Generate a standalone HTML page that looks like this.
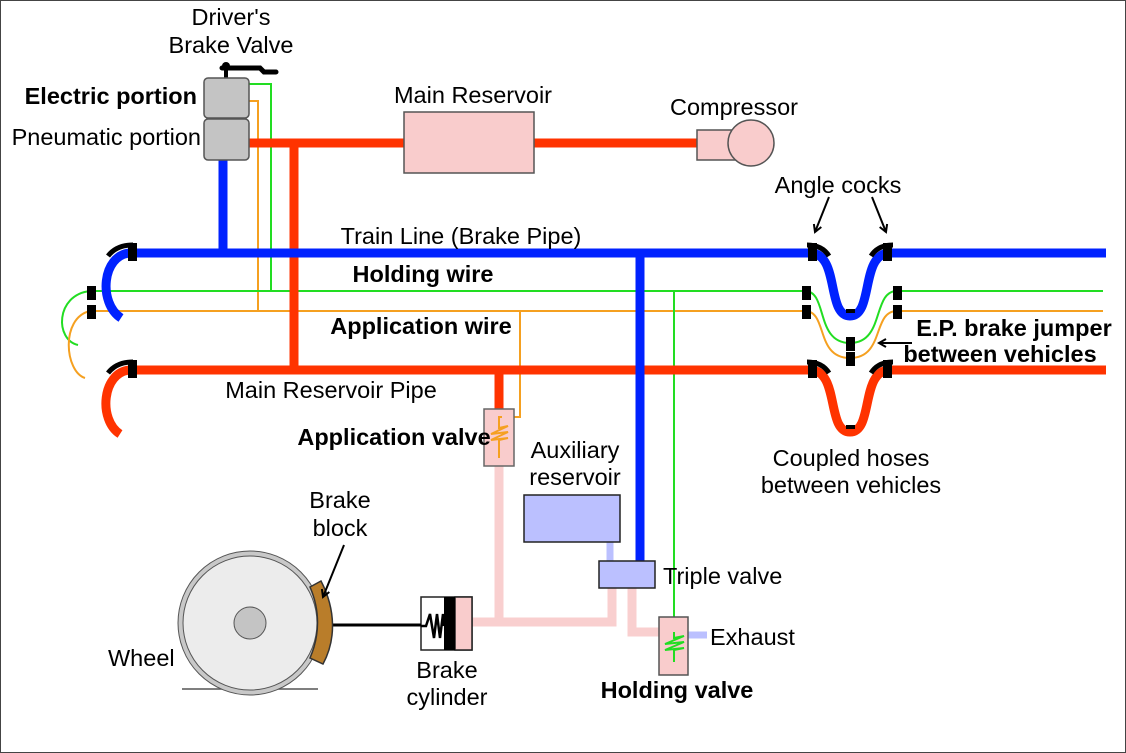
<!DOCTYPE html>
<html><head><meta charset="utf-8"><style>
html,body{margin:0;padding:0;background:#fff}
svg{display:block}
text{font-family:"Liberation Sans",Arial,sans-serif;font-size:23.5px;fill:#000}
.b{font-weight:bold}
</style></head><body>
<svg width="1126" height="753" viewBox="0 0 1126 753">
<defs><marker id="ar" markerWidth="10" markerHeight="10" refX="8" refY="5" orient="auto" markerUnits="userSpaceOnUse"><path d="M1,1 L8,5 L1,9" fill="none" stroke="#000" stroke-width="2"/></marker></defs>
<rect x="0.5" y="0.5" width="1125" height="752" fill="#fff" stroke="#444"/>
<g stroke="#f9cfcf" stroke-width="9" fill="none">
<path d="M499,466 V622 M470,622 H612 V588"/>
<path d="M632,588 V632 H662"/>
</g>
<g stroke="#bbc0ff" stroke-width="7" fill="none"><path d="M610,542 V563"/><path d="M688,635 H707"/></g>
<g fill="none" stroke-width="2">
<path d="M249,84 H271 V291" stroke="#22dd22"/>
<path d="M249,101 H258 V311" stroke="#f5a020"/>
<path d="M92,291 H802 M897,291 H1103" stroke="#22dd22"/>
<path d="M92,311 H802 M897,311 H1103" stroke="#f5a020"/>
<path d="M674,291 V632" stroke="#22dd22"/>
<path d="M520,311 V417 H502" stroke="#f5a020"/>
<path d="M90,291 C55,295 55,340 78,345" stroke="#22dd22"/>
<path d="M90,311 C60,318 65,372 85,378" stroke="#f5a020"/>
<path d="M805,291 C828,291 815,343 850,343 C885,343 872,291 897,291" stroke="#22dd22"/>
<path d="M805,311 C828,311 815,358 850,358 C885,358 872,311 897,311" stroke="#f5a020"/>
</g>
<g stroke="#ff3300" stroke-width="9" fill="none">
<path d="M249,143 H697"/><path d="M294,143 V370"/>
<path d="M130,370 H810 M890,370 H1106"/><path d="M499,370 V409"/>
<path d="M130,370 C102,372 98,420 120,434"/>
<path d="M810,370 C840,370 826,432 850,432 C874,432 860,370 890,370"/>
</g>
<g stroke="#0022ff" stroke-width="9" fill="none">
<path d="M223,160 V253"/><path d="M130,253 H810 M890,253 H1106"/>
<path d="M640,253 V561"/>
<path d="M130,253 C102,255 98,303 121,318"/>
<path d="M810,253 C840,253 826,316 850,316 C874,316 860,253 890,253"/>
</g>
<g fill="none" stroke="#000" stroke-width="5">
<path d="M108,256 C115,247 124,245 133,245"/><path d="M108,373 C115,364 124,362 133,362"/>
<path d="M807,245 C816,245 824,248 829,256"/><path d="M893,245 C884,245 876,248 871,256"/>
<path d="M807,362 C816,362 824,365 829,373"/><path d="M893,362 C884,362 876,365 871,373"/>
</g>
<g fill="#000">
<rect x="128" y="243" width="9" height="18"/><rect x="128" y="360" width="9" height="18"/>
<rect x="808" y="243" width="9" height="18"/><rect x="883" y="243" width="9" height="18"/>
<rect x="808" y="360" width="9" height="18"/><rect x="883" y="360" width="9" height="18"/>
<rect x="87" y="286" width="9" height="14"/><rect x="87" y="305" width="9" height="14"/>
<rect x="802" y="286" width="9" height="14"/><rect x="802" y="305" width="9" height="14"/>
<rect x="893" y="286" width="9" height="14"/><rect x="893" y="305" width="9" height="14"/>
<rect x="846" y="337" width="9" height="14"/><rect x="846" y="352" width="9" height="14"/>
<rect x="846" y="309" width="9" height="4"/><rect x="846" y="425" width="9" height="4"/>
</g>
<path d="M222,68 H260 L264,72 H276" stroke="#000" stroke-width="5" fill="none" stroke-linecap="round"/>
<circle cx="226" cy="66" r="4" fill="#000"/><rect x="224" y="68" width="4" height="10" fill="#000"/>
<rect x="204" y="78" width="45" height="40" rx="4" fill="#c4c4c4" stroke="#555" stroke-width="1.5"/>
<rect x="204" y="119" width="45" height="41" rx="4" fill="#c4c4c4" stroke="#555" stroke-width="1.5"/>
<rect x="404" y="112" width="130" height="61" fill="#f9cccc" stroke="#555" stroke-width="1.5"/>
<rect x="697" y="130" width="40" height="30" fill="#f9cccc" stroke="#555" stroke-width="1.5"/>
<circle cx="751" cy="143" r="23" fill="#f9cccc" stroke="#555" stroke-width="1.5"/>
<rect x="484" y="409" width="30" height="57" fill="#f9cccc" stroke="#666" stroke-width="1.5"/>
<path d="M502,417 H499 V428 L508,426 L491,434 L508,432 L491,440 L508,438 L499,440 V458" fill="none" stroke="#f5a020" stroke-width="2"/>
<rect x="524" y="495" width="96" height="47" fill="#bbc0ff" stroke="#222" stroke-width="1.5"/>
<rect x="599" y="561" width="56" height="27" fill="#bbc0ff" stroke="#222" stroke-width="1.5"/>
<rect x="659" y="617" width="29" height="58" fill="#f9cccc" stroke="#555" stroke-width="1.5"/>
<path d="M674,632 V638 L684,636 L665,644 L684,642 L665,650 L684,648 L674,650 V662" fill="none" stroke="#22dd22" stroke-width="2"/>
<rect x="421" y="597" width="51" height="53" fill="#fff" stroke="#222" stroke-width="1.5"/>
<rect x="455" y="597" width="17" height="53" fill="#f9cccc" stroke="#222" stroke-width="1.5"/>
<rect x="444" y="597" width="11" height="53" fill="#000"/>
<path d="M421,626 H426 L430,614 L434,638 L437,614 L440,638 L443,614 L444,626" fill="none" stroke="#000" stroke-width="2.5"/>
<path d="M333,625 H421" stroke="#000" stroke-width="3"/>
<line x1="182" y1="689" x2="318" y2="689" stroke="#555" stroke-width="1.5"/>
<circle cx="250" cy="623" r="72" fill="#c8c8c8" stroke="#555" stroke-width="1"/>
<circle cx="250" cy="623" r="67" fill="#ececec" stroke="#555" stroke-width="1"/>
<circle cx="250" cy="623" r="16" fill="#c4c4c4" stroke="#555" stroke-width="1"/>
<path d="M310,587 L321,581 C336,610 336,640 323,664 L310,658 C320,635 320,610 310,587 Z" fill="#b97d2a" stroke="#333" stroke-width="1.5"/>
<g stroke="#000" stroke-width="2" fill="none" marker-end="url(#ar)">
<line x1="344" y1="545" x2="323" y2="597"/>
<line x1="829" y1="197" x2="815" y2="232"/>
<line x1="872" y1="197" x2="886" y2="232"/>
<line x1="912" y1="343" x2="879" y2="343"/>
</g>
<text x="231" y="25" text-anchor="middle">Driver's</text>
<text x="231" y="53" text-anchor="middle">Brake Valve</text>
<text x="197" y="104" text-anchor="end" class="b">Electric portion</text>
<text x="201" y="145" text-anchor="end">Pneumatic portion</text>
<text x="473" y="103" text-anchor="middle">Main Reservoir</text>
<text x="734" y="115" text-anchor="middle">Compressor</text>
<text x="838" y="193" text-anchor="middle">Angle cocks</text>
<text x="461" y="244" text-anchor="middle">Train Line (Brake Pipe)</text>
<text x="423" y="282" text-anchor="middle" class="b">Holding wire</text>
<text x="421" y="334" text-anchor="middle" class="b">Application wire</text>
<text x="1014" y="336" text-anchor="middle" class="b">E.P. brake jumper</text>
<text x="1000" y="362" text-anchor="middle" class="b">between vehicles</text>
<text x="331" y="398" text-anchor="middle">Main Reservoir Pipe</text>
<text x="394" y="445" text-anchor="middle" class="b">Application valve</text>
<text x="575" y="458" text-anchor="middle">Auxiliary</text>
<text x="575" y="485" text-anchor="middle">reservoir</text>
<text x="851" y="466" text-anchor="middle">Coupled hoses</text>
<text x="851" y="493" text-anchor="middle">between vehicles</text>
<text x="340" y="508" text-anchor="middle">Brake</text>
<text x="340" y="536" text-anchor="middle">block</text>
<text x="663" y="584">Triple valve</text>
<text x="710" y="645">Exhaust</text>
<text x="108" y="666">Wheel</text>
<text x="447" y="678" text-anchor="middle">Brake</text>
<text x="447" y="705" text-anchor="middle">cylinder</text>
<text x="677" y="698" text-anchor="middle" class="b">Holding valve</text>
</svg>
</body></html>
